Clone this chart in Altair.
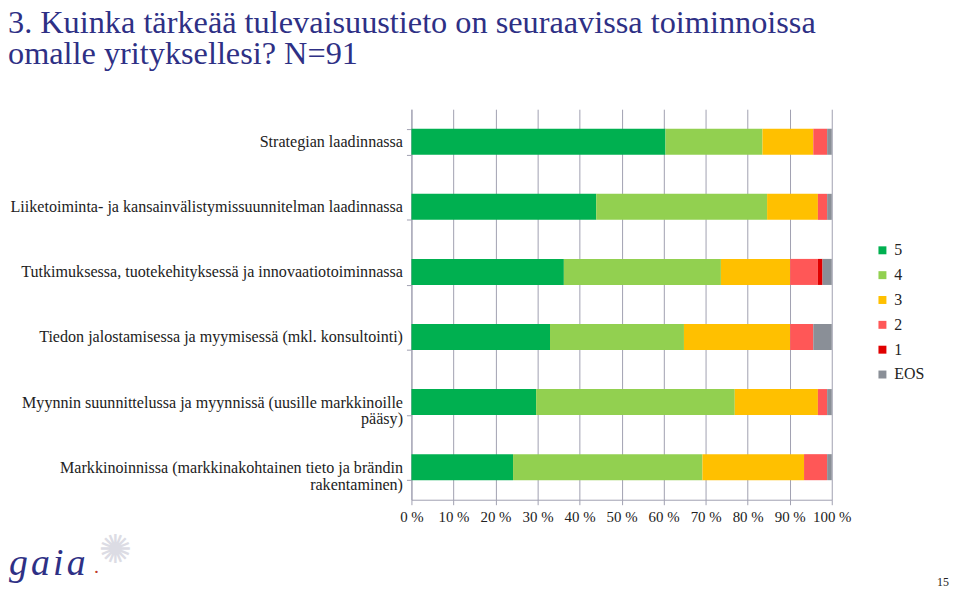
import altair as alt
import pandas as pd

title_text = "3. Kuinka tärkeää tulevaisuustieto on seuraavissa toiminnoissa|omalle yrityksellesi? N=91"

categories = [
    "Strategian laadinnassa",
    "Liiketoiminta- ja kansainvälistymissuunnitelman laadinnassa",
    "Tutkimuksessa, tuotekehityksessä ja innovaatiotoiminnassa",
    "Tiedon jalostamisessa ja myymisessä (mkl. konsultointi)",
    "Myynnin suunnittelussa ja myynnissä (uusille markkinoille|pääsy)",
    "Markkinoinnissa (markkinakohtainen tieto ja brändin|rakentaminen)",
]
series = ["5", "4", "3", "2", "1", "EOS"]
# answer counts (N = 91) per category
s5 = [55, 40, 33, 30, 27, 22]
s4 = [21, 37, 34, 29, 43, 41]
s3 = [11, 11, 15, 23, 18, 22]
s2 = [3, 2, 6, 5, 2, 5]
s1 = [0, 0, 1, 0, 0, 0]
seos = [1, 1, 2, 4, 1, 1]
colors = ["#00b050", "#92d050", "#ffc000", "#ff5757", "#e00000", "#8a8f97"]
x_ticks = [0, 0.1, 0.2, 0.3, 0.4, 0.5, 0.6, 0.7, 0.8, 0.9, 1.0]

rows = []
for si, (name, vals) in enumerate(zip(series, [s5, s4, s3, s2, s1, seos])):
    for ci, cat in enumerate(categories):
        rows.append({"category": cat, "series": name, "count": vals[ci], "ord": si})
df = pd.DataFrame(rows)

SERIF = "Liberation Serif"
GRID = "#a0a0b0"
TXT = "#222222"
BLUE = "#2e3085"

bars = alt.Chart(df).mark_bar().encode(
    y=alt.Y("category:N", sort=categories,
            scale=alt.Scale(paddingInner=0.6, paddingOuter=0.3),
            axis=alt.Axis(title=None, labelExpr="split(datum.label, '|')",
                          labelFont=SERIF, labelFontSize=16.2, labelColor=TXT,
                          labelLineHeight=17, labelLimit=420,
                          tickBand="extent", tickSize=5, tickColor=GRID,
                          domainColor=GRID, labelPadding=4, grid=False)),
    x=alt.X("count:Q", stack="normalize",
            scale=alt.Scale(domain=[0, 1], nice=False),
            axis=alt.Axis(title=None, values=x_ticks, labelOverlap=False,
                          labelFlush=False,
                          labelExpr="format(datum.value*100, 'd') + ' %'",
                          labelFont=SERIF, labelFontSize=15, labelColor=TXT,
                          tickSize=5, tickColor=GRID, domainColor=GRID,
                          gridColor=GRID, gridWidth=1, labelPadding=5)),
    color=alt.Color("series:N", sort=series,
                    scale=alt.Scale(domain=series, range=colors),
                    legend=alt.Legend(title=None, orient="none", legendX=466, legendY=134,
                                      symbolType="square", symbolSize=64,
                                      symbolStrokeWidth=0,
                                      labelFont=SERIF, labelFontSize=16,
                                      labelColor=TXT, rowPadding=9)),
    order=alt.Order("ord:Q", sort="ascending"),
)

title = alt.Chart(pd.DataFrame({"t": [title_text]})).mark_text(
    font=SERIF, fontSize=32.5, color=BLUE, align="left", baseline="alphabetic",
    lineBreak="|", lineHeight=32
).encode(x=alt.value(-406), y=alt.value(-77), text="t:N")

logo = alt.Chart(pd.DataFrame({"t": ["g\u200aa\u200ai\u200aa"]})).mark_text(
    font=SERIF, fontSize=38, fontStyle="italic", color=BLUE, align="left",
    baseline="alphabetic"
).encode(x=alt.value(-405), y=alt.value(469), text="t:N")

star = alt.Chart(pd.DataFrame({"t": ["✺"]})).mark_text(
    font="DejaVu Sans", fontSize=40, color="#dcdce4", align="center", baseline="middle"
).encode(x=alt.value(-298), y=alt.value(445), text="t:N")

dot = alt.Chart(pd.DataFrame({"t": ["."]})).mark_text(
    font=SERIF, fontSize=20, color="#c0392b", align="center", baseline="alphabetic"
).encode(x=alt.value(-317), y=alt.value(467), text="t:N")

page = alt.Chart(pd.DataFrame({"t": ["15"]})).mark_text(
    font=SERIF, fontSize=12, color=TXT, align="right", baseline="alphabetic"
).encode(x=alt.value(541), y=alt.value(480), text="t:N")

chart = alt.layer(bars, title, star, dot, logo, page).properties(
    width=423, height=393,
    autosize=alt.AutoSizeParams(type="none"),
    padding={"left": 406, "top": 100, "right": 120, "bottom": 90},
).configure_view(strokeOpacity=0)

chart.save("out.html", embed_options={"renderer": "svg", "actions": False})
